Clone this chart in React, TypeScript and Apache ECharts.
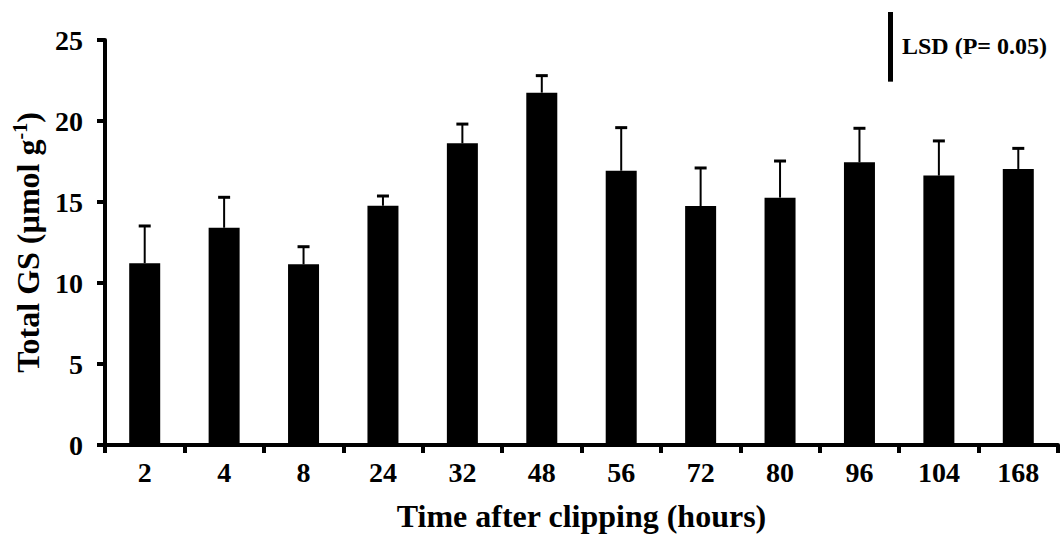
import React, { useEffect, useRef } from "react";
import * as echarts from "echarts";

const categories = ["2", "4", "8", "24", "32", "48", "56", "72", "80", "96", "104", "168"];
const means = [11.22, 13.41, 11.15, 14.77, 18.62, 21.75, 16.93, 14.75, 15.27, 17.45, 16.63, 17.04];
const upperErrors = [2.3, 1.88, 1.09, 0.6, 1.19, 1.05, 2.66, 2.35, 2.26, 2.1, 2.14, 1.27];
const yTicks = { min: 0, max: 25, interval: 5 };
const lsdValue = 4.3;
const lsdLabel = "LSD (P= 0.05)";
const xTitle = "Time after clipping (hours)";

const FONT = '"Liberation Serif", "Times New Roman", serif';

export default function App() {
  const ref = useRef<HTMLDivElement>(null);
  useEffect(() => {
    const chart = echarts.init(ref.current!, null, { renderer: "svg" });
    const errData = categories.map((c, i) => [i, means[i], upperErrors[i]]);
    chart.setOption({
      animation: false,
      backgroundColor: "#fff",
      grid: { left: 105, right: 2, top: 40, bottom: 94, containLabel: false },
      xAxis: {
        type: "category",
        data: categories,
        boundaryGap: true,
        name: xTitle,
        nameLocation: "middle",
        nameGap: 55,
        nameTextStyle: { fontFamily: FONT, fontWeight: "bold", fontSize: 32, color: "#000" },
        axisLine: { lineStyle: { color: "#000", width: 4 } },
        axisTick: { show: true, inside: false, length: 8, lineStyle: { color: "#000", width: 4 } },
        axisLabel: { fontFamily: FONT, fontWeight: "bold", fontSize: 28, color: "#000", margin: 13 },
        splitLine: { show: false },
      },
      yAxis: {
        type: "value",
        min: yTicks.min,
        max: yTicks.max,
        interval: yTicks.interval,
        name: "{m|Total GS (µmol g}{s|-1}{m|)}",
        nameLocation: "middle",
        nameGap: 60,
        nameRotate: 90,
        nameTextStyle: {
          color: "#000",
          rich: {
            m: { fontFamily: FONT, fontWeight: "bold", fontSize: 32, color: "#000", lineHeight: 35 },
            s: { fontFamily: FONT, fontWeight: "bold", fontSize: 20, color: "#000", verticalAlign: "top", lineHeight: 35 },
          },
        },
        axisLine: { show: true, lineStyle: { color: "#000", width: 4 } },
        axisTick: { show: true, inside: false, length: 8, lineStyle: { color: "#000", width: 4 } },
        axisLabel: { fontFamily: FONT, fontWeight: "bold", fontSize: 28, color: "#000", margin: 22 },
        splitLine: { show: false },
      },
      series: [
        {
          type: "bar",
          data: means,
          barWidth: 31,
          itemStyle: { color: "#000" },
          z: 2,
        },
        {
          type: "custom",
          data: errData,
          encode: { x: 0, y: 1 },
          z: 3,
          renderItem: (params: any, api: any) => {
            const x = api.value(0);
            const v = api.value(1);
            const e = api.value(2);
            const base = api.coord([x, v]);
            const top = api.coord([x, v + e]);
            return {
              type: "group",
              children: [
                { type: "line", shape: { x1: base[0], y1: base[1], x2: top[0], y2: top[1] }, style: { stroke: "#000", lineWidth: 2 } },
                { type: "line", shape: { x1: top[0] - 6, y1: top[1], x2: top[0] + 6, y2: top[1] }, style: { stroke: "#000", lineWidth: 3 } },
              ],
            };
          },
        },
        {
          type: "custom",
          data: [[0, lsdValue]],
          clip: false,
          z: 3,
          silent: true,
          renderItem: (params: any, api: any) => {
            const h = api.size([0, api.value(1)])[1];
            return {
              type: "rect",
              shape: { x: 888, y: 12, width: 5, height: h },
              style: { fill: "#000" },
            };
          },
        },
      ],
      graphic: [
        {
          type: "text",
          left: 902,
          top: 34,
          style: { text: lsdLabel, fontFamily: FONT, fontWeight: "bold", fontSize: 24, fill: "#000" },
        },
      ],
    });
    return () => chart.dispose();
  }, []);
  return <div ref={ref} style={{ position: "fixed", left: 0, top: 0, width: 1060, height: 539 }} />;
}
